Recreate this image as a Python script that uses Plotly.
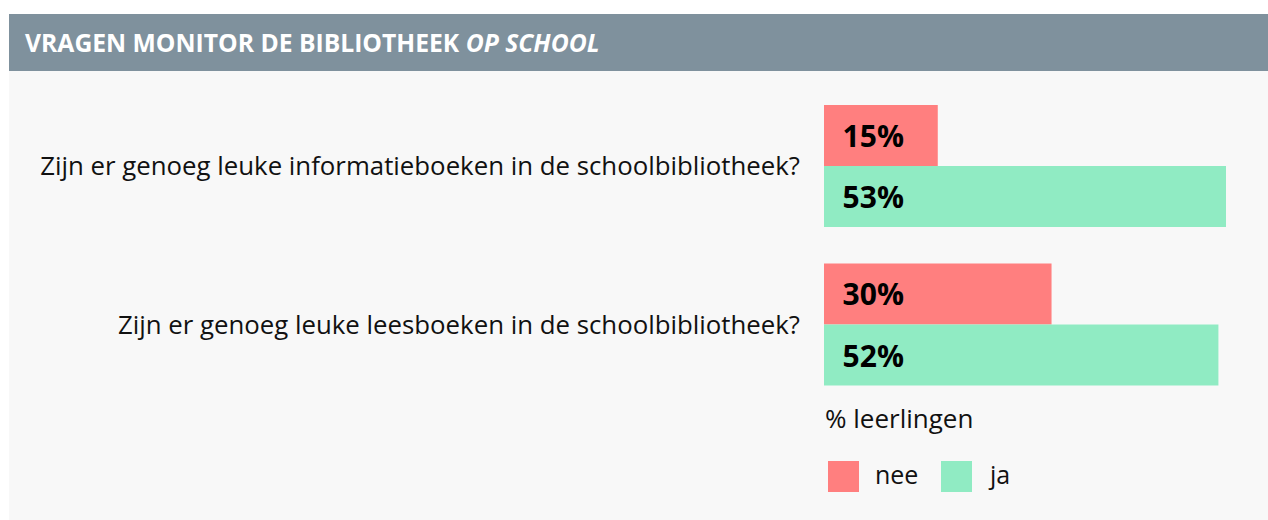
import plotly.graph_objects as go

# ---- data ----
questions = [
    "Zijn er genoeg leuke informatieboeken in de schoolbibliotheek?",
    "Zijn er genoeg leuke leesboeken in de schoolbibliotheek?",
]
nee_values = [15, 30]
ja_values = [53, 52]
series_names = ["nee", "ja"]
series_colors = ["#ff7f7f", "#90ebc3"]
title_main = "VRAGEN MONITOR DE BIBLIOTHEEK"
title_italic = "OP SCHOOL"
axis_note = "% leerlingen"

W, H = 1268, 520
FONT = "Open Sans"


def px(x):
    return x / W


def py(y):
    return 1 - y / H


fig = go.Figure()
for name, vals, col in zip(series_names, [nee_values, ja_values], series_colors):
    fig.add_trace(go.Bar(
        name=name,
        y=questions,
        x=vals,
        orientation="h",
        marker=dict(color=col, line=dict(width=0)),
        text=["\u00a0\u00a0" + f"{v}%" for v in vals],
        textposition="inside",
        insidetextanchor="start",
        constraintext="none",
        textfont=dict(family=FONT, size=30, color="#000000", weight="bold"),
        showlegend=False,
        hoverinfo="skip",
    ))

shapes = [
    # content background
    dict(type="rect", xref="paper", yref="paper", x0=px(9), x1=1, y0=0, y1=py(71),
         fillcolor="#f8f8f8", line=dict(width=0), layer="below"),
    # header bar
    dict(type="rect", xref="paper", yref="paper", x0=px(9), x1=1, y0=py(71), y1=py(14),
         fillcolor="#7f919d", line=dict(width=0), layer="below"),
]

annotations = [
    dict(text=f"<b>{title_main} <i>{title_italic}</i></b>", xref="paper", yref="paper",
         x=px(23), y=py(42), xanchor="left", yanchor="middle", showarrow=False,
         font=dict(family=FONT, size=24.7, color="#ffffff")),
    dict(text=axis_note, xref="paper", yref="paper", x=px(823), y=py(418),
         xanchor="left", yanchor="middle", showarrow=False,
         font=dict(family=FONT, size=26, color="#111111")),
]

# custom legend
leg_x = [828, 941]
for name, col, lx in zip(series_names, series_colors, leg_x):
    shapes.append(dict(type="rect", xref="paper", yref="paper", x0=px(lx), x1=px(lx + 31),
                       y0=py(492), y1=py(461), fillcolor=col, line=dict(width=0)))
    annotations.append(dict(text=name, xref="paper", yref="paper", x=px(lx + 45), y=py(474),
                            xanchor="left", yanchor="middle", showarrow=False,
                            font=dict(family=FONT, size=25, color="#111111")))

scale = 402 / 53.0
fig.update_layout(
    width=W, height=H,
    margin=dict(l=0, r=0, t=0, b=0),
    paper_bgcolor="#ffffff",
    plot_bgcolor="rgba(0,0,0,0)",
    barmode="group",
    bargap=0.23,
    bargroupgap=0,
    shapes=shapes,
    annotations=annotations,
    xaxis=dict(domain=[px(824), 1], range=[0, (W - 824) / scale], visible=False,
               fixedrange=True),
    yaxis=dict(domain=[py(403.75), py(86.75)], range=[1.5, -0.5], type="category",
               ticks="", showgrid=False, zeroline=False, showline=False,
               ticklabelstandoff=23, fixedrange=True,
               tickfont=dict(family=FONT, size=25.8, color="#111111")),
    font=dict(family=FONT),
)

fig.write_html("out.html", config={"displayModeBar": False},
               post_script="document.body.style.margin='0';")
